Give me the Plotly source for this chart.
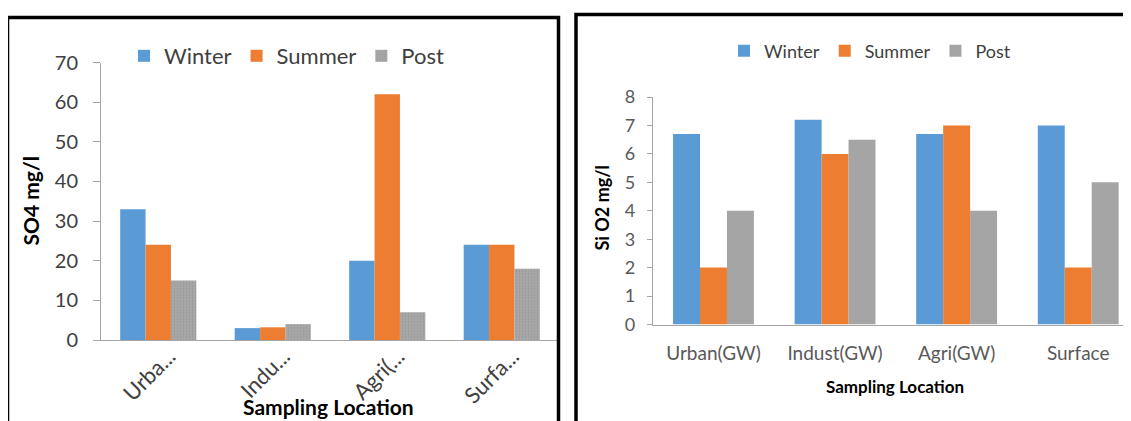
import plotly.graph_objects as go

W, H = 1131, 421
OFF = 8  # page body margin offset

# ---------------- data ----------------
categories = ["Urban(GW)", "Indust(GW)", "Agri(GW)", "Surface"]
left_ticklabels = ["Urba...", "Indu...", "Agri(...", "Surfa..."]
seasons = ["Winter", "Summer", "Post"]

so4_winter = [33, 3, 20, 24]
so4_summer = [24, 3.2, 62, 24]
so4_post = [15, 4, 7, 18]

sio2_winter = [6.7, 7.2, 6.7, 7.0]
sio2_summer = [2.0, 6.0, 7.0, 2.0]
sio2_post = [4.0, 6.5, 4.0, 5.0]

colors = {"Winter": "#5B9BD5", "Summer": "#ED7D31", "Post": "#A5A5A5"}

def px(x):
    return (x - OFF) / W

def py(y):
    return 1 - (y - OFF) / H

FONT = "Lato"

fig = go.Figure()

left_vals = {"Winter": so4_winter, "Summer": so4_summer, "Post": so4_post}
right_vals = {"Winter": sio2_winter, "Summer": sio2_summer, "Post": sio2_post}

for s in seasons:
    marker = dict(color=colors[s], line=dict(width=0))
    if s == "Post":
        marker["pattern"] = dict(shape=".", fgcolor="#959595", bgcolor="#A8A8A8",
                                 size=3, solidity=0.25, fillmode="replace")
    fig.add_trace(go.Bar(x=categories, y=left_vals[s], name=s, marker=marker,
                         xaxis="x", yaxis="y", legend="legend"))

for s in seasons:
    fig.add_trace(go.Bar(x=categories, y=right_vals[s], name=s,
                         marker=dict(color=colors[s], line=dict(width=0)),
                         xaxis="x2", yaxis="y2", legend="legend2"))

axis_gray = "#A6A6A6"

fig.update_layout(
    template="none",
    width=W, height=H,
    margin=dict(l=0, r=0, t=0, b=0, pad=0, autoexpand=False),
    paper_bgcolor="white", plot_bgcolor="white",
    barmode="group", bargap=0.335, bargroupgap=0,
    font=dict(family=FONT, color="#404040"),
    xaxis=dict(domain=[px(101), px(559)], range=[-0.5, 3.5], anchor="y",
               tickmode="array", tickvals=categories, ticktext=left_ticklabels,
               tickangle=-45, tickfont=dict(size=22, color="#404040"),
               ticklabelshift=11, ticklabelstandoff=-6,
               showline=True, linecolor=axis_gray, linewidth=1, ticks="",
               showgrid=False, zeroline=False, automargin=False),
    yaxis=dict(domain=[py(340), py(62.5)], range=[0, 70], dtick=10, anchor="x",
               showline=True, linecolor=axis_gray, linewidth=1,
               ticks="outside", ticklen=7, tickcolor=axis_gray,
               ticklabelstandoff=11,
               tickfont=dict(size=20, color="#404040"),
               showgrid=False, zeroline=False, automargin=False),
    xaxis2=dict(domain=[px(652.7), 1.0], range=[-0.5, 3.5], anchor="y2",
                tickfont=dict(size=19, color="#595959"),
                ticklabelstandoff=12,
                showline=True, linecolor=axis_gray, linewidth=1, ticks="",
                showgrid=False, zeroline=False, automargin=False),
    yaxis2=dict(domain=[py(324.5), py(97)], range=[0, 8], dtick=1, anchor="x2",
                showline=True, linecolor=axis_gray, linewidth=1,
                ticks="outside", ticklen=5, tickcolor=axis_gray,
                ticklabelstandoff=8,
                tickfont=dict(size=18, color="#595959"),
                showgrid=False, zeroline=False, automargin=False),
    legend=dict(orientation="h", x=px(124), y=py(56), xanchor="left", yanchor="middle",
                font=dict(size=22, color="#404040", family=FONT),
                bgcolor="rgba(0,0,0,0)", borderwidth=0),
    legend2=dict(orientation="h", x=px(724), y=py(51), xanchor="left", yanchor="middle",
                 font=dict(size=18, color="#404040", family=FONT),
                 bgcolor="rgba(0,0,0,0)", borderwidth=0),
    shapes=[
        dict(type="rect", xref="paper", yref="paper",
             x0=px(7.5), x1=px(558.5), y0=py(17.5), y1=-0.1,
             line=dict(color="black", width=3.5), fillcolor="rgba(0,0,0,0)"),
        dict(type="rect", xref="paper", yref="paper",
             x0=px(576), x1=1.1, y0=py(14.5), y1=-0.1,
             line=dict(color="black", width=3.5), fillcolor="rgba(0,0,0,0)"),
    ],
    annotations=[
        dict(text="SO4 mg/l", x=px(29.5), y=py(201), xref="paper", yref="paper",
             textangle=-90, showarrow=False, xanchor="center", yanchor="middle",
             font=dict(size=21, color="black", family=FONT, weight=700)),
        dict(text="Sampling Location", x=px(329), y=py(406), xref="paper", yref="paper",
             showarrow=False, xanchor="center", yanchor="middle",
             font=dict(size=21, color="black", family=FONT, weight=700)),
        dict(text="Si O2 mg/l", x=px(601.5), y=py(208), xref="paper", yref="paper",
             textangle=-90, showarrow=False, xanchor="center", yanchor="middle",
             font=dict(size=18, color="black", family=FONT, weight=700)),
        dict(text="Sampling Location", x=px(894.5), y=py(386.7), xref="paper", yref="paper",
             showarrow=False, xanchor="center", yanchor="middle",
             font=dict(size=17, color="black", family=FONT, weight=700)),
    ],
)

fig.write_html("out.html")
